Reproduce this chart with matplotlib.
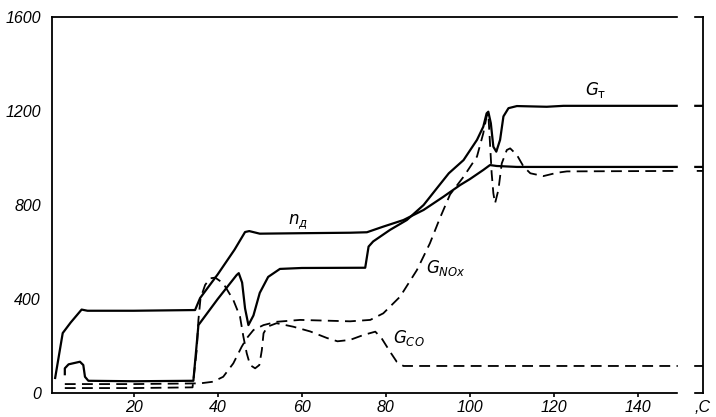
import numpy as np
import matplotlib
matplotlib.use("Agg")
import matplotlib.pyplot as plt

# time, s
X_RIGHT = 155.5

# n_д (solid, upper)
n_x = [1.3, 3.1, 5.0, 7.6, 9.0, 20.0, 34.6, 35.8, 40.0, 44.0, 46.5, 47.5, 50.0, 60.0,
       71.5, 75.5, 79.4, 84.2, 89.0, 93.7, 97.7, 100.0, 103.2, 104.8, 106.4, 111.2, 150.0]
n_y = [64, 255, 300, 355, 350, 350, 353, 404, 505, 610, 685, 689, 678, 680,
       682, 684, 708, 736, 779, 835, 885, 910, 949, 970, 966, 962, 962]

# G_т (solid, lower)
gt_x = [3.6, 3.6, 4.5, 7.2, 8.0, 8.4, 9.2, 20.0, 34.2, 35.4, 40.0, 44.5, 45.0, 45.8, 46.5, 47.3,
        48.5, 50.0, 52.0, 54.8, 60.0, 75.1, 75.9, 77.0, 81.0, 85.0, 89.0, 92.1, 95.0,
        98.5, 101.7, 103.2, 104.0, 104.4, 105.0, 105.6, 106.3, 107.2, 108.0, 109.2,
        111.2, 118.3, 122.3, 150.0]
gt_y = [80, 105, 122, 133, 119, 69, 52, 50, 52, 289, 400, 502, 510, 470, 360, 289,
        330, 426, 494, 528, 532, 533, 623, 645, 694, 736, 800, 870, 935,
        991, 1077, 1133, 1190, 1197, 1148, 1048, 1027, 1077, 1177, 1212,
        1221, 1218, 1222, 1222]

# G_NOx (dashed)
nox_x = [3.6, 20.0, 35.8, 38.9, 41.3, 43.7, 45.7, 46.9, 48.5, 50.9, 54.0, 59.6, 71.5,
         76.3, 79.4, 83.4, 87.4, 90.5, 92.9, 95.3, 98.5, 101.7, 103.2, 104.0, 104.4,
         104.8, 105.2, 105.6, 106.0, 106.8, 107.6, 108.8, 109.6, 111.2, 112.8,
         114.4, 117.5, 120.7, 123.1, 150.0]
nox_y = [38, 38, 41, 48, 69, 126, 197, 233, 268, 289, 303, 311, 305,
         311, 339, 410, 523, 637, 745, 845, 920, 1006, 1105, 1177, 1190,
         1063, 935, 850, 807, 864, 977, 1034, 1041, 1013, 963,
         935, 923, 937, 943, 945]

# G_CO (dashed)
co_x = [3.6, 20.0, 34.0, 35.0, 35.4, 35.9, 37.0, 38.2, 39.4, 41.3, 43.7, 45.3, 46.1,
        46.9, 47.7, 48.9, 49.9, 50.5, 50.9, 51.8, 54.0, 58.0, 62.0, 66.0, 68.5,
        71.5, 74.7, 77.5, 79.0, 81.0, 82.6, 84.2, 150.0]
co_y = [21, 21, 24, 183, 311, 403, 460, 488, 491, 467, 396, 325, 240,
        169, 119, 105, 119, 183, 254, 282, 297, 282, 262, 234, 220,
        226, 247, 261, 233, 176, 133, 115, 115]

y_ticks = [0, 400, 800, 1200, 1600]
x_ticks = [20, 40, 60, 80, 100, 120, 140]


def ext(xs, ys):
    # carry the last value on past the axis break
    return np.append(xs, X_RIGHT), np.append(ys, ys[-1])


fig = plt.figure(figsize=(7.16, 4.17), dpi=100)
ax = fig.add_axes([52 / 716, 1 - 393 / 417, (703 - 52) / 716, (393 - 17) / 417])

solid = dict(color="black", lw=1.6, solid_joinstyle="round")
dash = dict(color="black", lw=1.3, dashes=(6, 3.5))

ax.plot(*ext(n_x, n_y), **solid)
ax.plot(*ext(gt_x, gt_y), **solid)
ax.plot(*ext(nox_x, nox_y), **dash)
ax.plot(*ext(co_x, co_y), **dash)

ax.set_xlim(0.55, X_RIGHT)
ax.set_ylim(0, 1600)
ax.set_xticks(x_ticks)
ax.set_yticks(y_ticks)
for s in ax.spines.values():
    s.set_linewidth(1.3)

ax.tick_params(axis="y", length=0, pad=8, labelsize=11.5)
ax.tick_params(axis="x", length=3, width=1.2, pad=2, labelsize=11.5)
for lab in ax.get_xticklabels() + ax.get_yticklabels():
    lab.set_fontstyle("italic")
    lab.set_fontfamily("Liberation Sans")

# axis break between 150 and the right-hand axis
ax.axvspan(149.6, 153.2, ymin=-0.02, ymax=1.02, color="white", zorder=10, clip_on=False)

ax.text(59.0, 728, r"$n_{д}$", fontsize=12, ha="center", va="center")
ax.text(127.5, 1290, r"$G_{\mathrm{т}}$", fontsize=12, ha="left", va="center")
ax.text(89.5, 530, r"$G_{NOx}$", fontsize=12, ha="left", va="center")
ax.text(81.8, 234, r"$G_{CO}$", fontsize=12, ha="left", va="center")
fig.text(703 / 716, 1 - 407 / 417, ",C", fontsize=11.5, style="italic",
         family="Liberation Sans", ha="center", va="center")

fig.savefig("out.png", dpi=100)
